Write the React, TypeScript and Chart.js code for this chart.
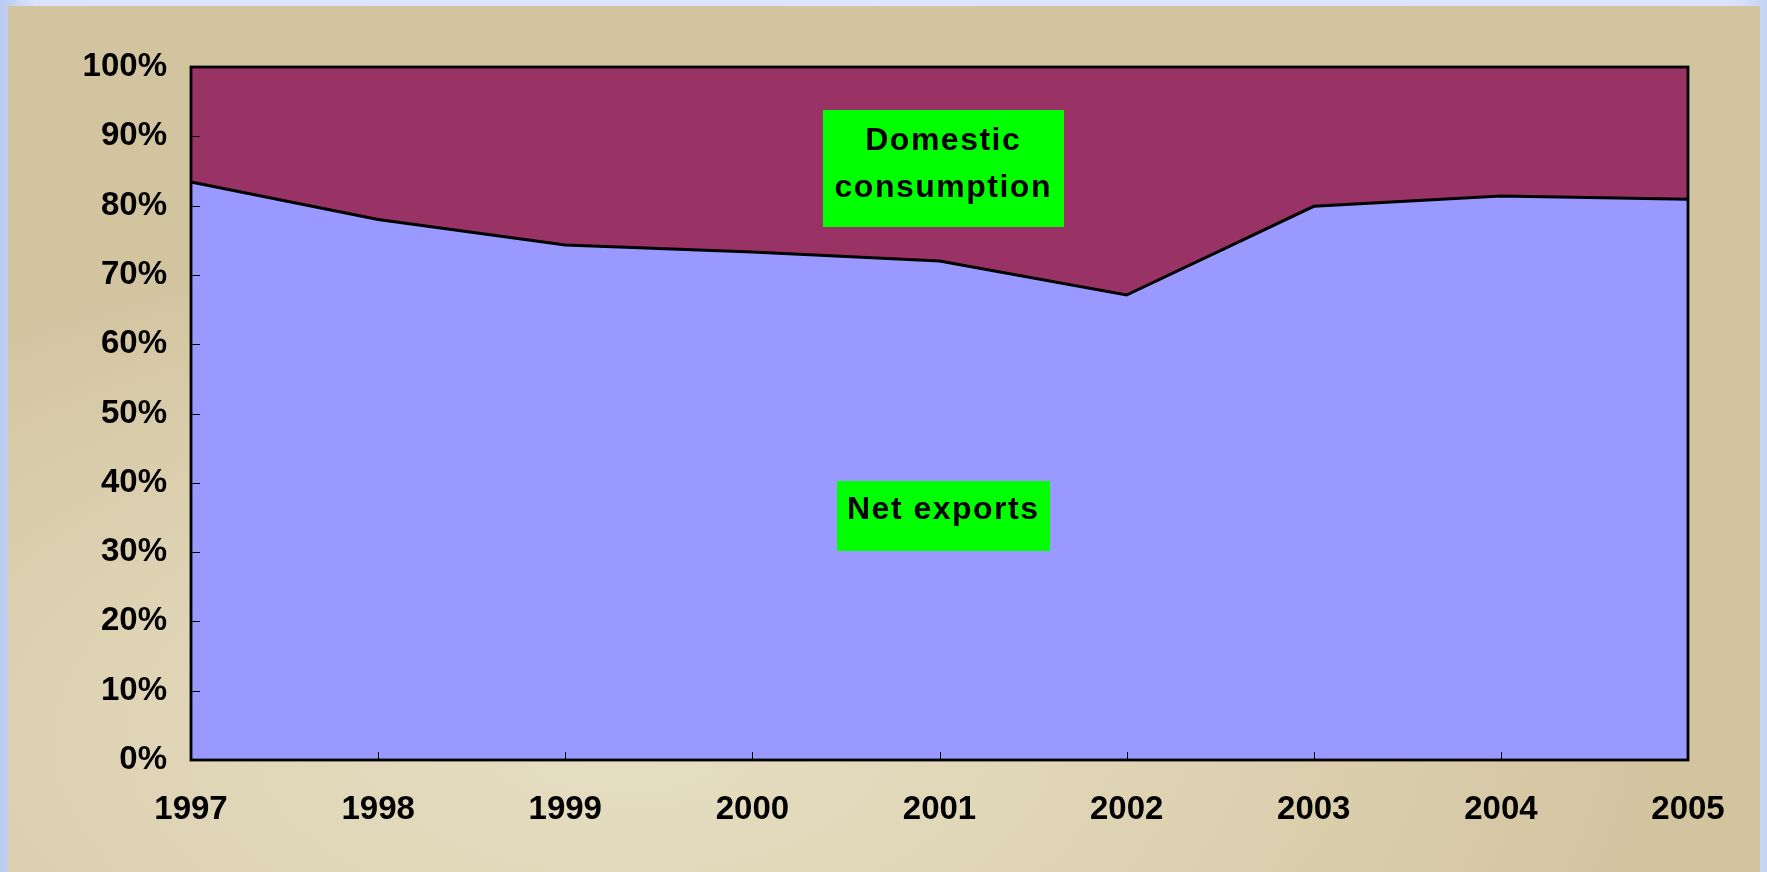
import React, { useEffect, useRef } from "react";
import { Chart, registerables } from "chart.js";

Chart.register(...registerables);

const years = ["1997", "1998", "1999", "2000", "2001", "2002", "2003", "2004", "2005"];
const netExports = [83.4, 78.0, 74.3, 73.3, 72.0, 67.1, 79.9, 81.4, 80.9];
const domesticConsumption = [16.6, 22.0, 25.7, 26.7, 28.0, 32.9, 20.1, 18.6, 19.1];
const yTickValues = [0, 10, 20, 30, 40, 50, 60, 70, 80, 90, 100];

const FONT_FAMILY = "'Liberation Sans', Arial, sans-serif";
const W = 1752;
const H = 866;

const overlayPlugin = {
  id: "overlay",
  afterDatasetsDraw(chart: any) {
    const { ctx, chartArea, scales } = chart;
    const { left, top, right, bottom } = chartArea;
    const xs = scales.x;
    const ys = scales.y;
    ctx.save();
    // inward tick marks
    ctx.strokeStyle = "#000";
    ctx.lineWidth = 1;
    ctx.beginPath();
    yTickValues.forEach((v) => {
      const py = Math.round(ys.getPixelForValue(v)) + 0.5;
      ctx.moveTo(left, py);
      ctx.lineTo(left + 9, py);
    });
    years.forEach((_, i) => {
      const px = Math.round(xs.getPixelForValue(i)) + 0.5;
      ctx.moveTo(px, bottom);
      ctx.lineTo(px, bottom - 8);
    });
    ctx.stroke();
    // frame
    ctx.lineWidth = 2.8;
    ctx.strokeRect(left, top, right - left, bottom - top);

    // annotation boxes
    const drawBox = (xv: number, yv: number, w: number, h: number, lines: string[], offsets: number[]) => {
      const cx = xs.getPixelForValue(xv);
      const cy = ys.getPixelForValue(yv);
      ctx.fillStyle = "#00FF00";
      ctx.fillRect(Math.round(cx - w / 2), Math.round(cy - h / 2), w, h);
      ctx.fillStyle = "#000";
      ctx.font = `bold 32px ${FONT_FAMILY}`;
      (ctx as any).letterSpacing = "1.5px";
      ctx.textAlign = "center";
      ctx.textBaseline = "middle";
      lines.forEach((t, i) => ctx.fillText(t, cx, cy + offsets[i]));
    };
    drawBox(4.02, 85.35, 241, 117, ["Domestic", "consumption"], [-27, 20]);
    drawBox(4.02, 35.2, 213, 70, ["Net exports"], [-6]);
    ctx.restore();
  },
};

export default function App() {
  const canvasRef = useRef<HTMLCanvasElement | null>(null);

  useEffect(() => {
    if (!canvasRef.current) return;
    const font = { family: FONT_FAMILY, size: 33, weight: "bold" as const };
    const chart = new Chart(canvasRef.current, {
      type: "line",
      data: {
        labels: years,
        datasets: [
          {
            label: "Net exports",
            data: netExports,
            fill: "origin",
            backgroundColor: "#9999FF",
            borderColor: "#000000",
            borderWidth: 3,
            pointRadius: 0,
            tension: 0,
          },
          {
            label: "Domestic consumption",
            data: domesticConsumption,
            fill: "-1",
            backgroundColor: "#993366",
            borderColor: "rgba(0,0,0,0)",
            borderWidth: 0,
            pointRadius: 0,
            tension: 0,
          },
        ],
      },
      options: {
        responsive: false,
        animation: false,
        layout: { padding: { left: 0, top: 61, right: 72, bottom: 0 } },
        plugins: {
          legend: { display: false },
          tooltip: { enabled: false },
        },
        scales: {
          x: {
            offset: false,
            grid: { display: false, drawTicks: false },
            border: { display: false },
            ticks: { font, color: "#000", padding: 30, maxRotation: 0, autoSkip: false },
            afterFit: (s: any) => {
              s.height = 112;
            },
          },
          y: {
            stacked: true,
            min: 0,
            max: 100,
            grid: { display: false, drawTicks: false },
            border: { display: false },
            ticks: {
              stepSize: 10,
              font,
              color: "#000",
              padding: 24,
              callback: (v: any) => `${v}%`,
            },
            afterFit: (s: any) => {
              s.width = 183;
            },
          },
        },
      },
      plugins: [overlayPlugin],
    });
    return () => chart.destroy();
  }, []);

  return (
    <div
      style={{
        position: "fixed",
        left: 0,
        top: 0,
        width: 1767,
        height: 872,
        background: "linear-gradient(90deg, #b9cbef 0%, #dbe4fd 2%, #dde6ff 50%, #dbe4fd 98%, #c5d4f3 100%)",
        overflow: "hidden",
      }}
    >
      <div
        style={{
          position: "absolute",
          left: 8,
          top: 6,
          width: W,
          height: H,
          background: "radial-gradient(ellipse 60% 60% at 35% 85%, #e6dec3 0%, #dfd5b6 45%, #d3c4a0 100%)",
        }}
      >
        <canvas ref={canvasRef} width={W} height={H} style={{ display: "block", width: W, height: H }} />
      </div>
    </div>
  );
}
